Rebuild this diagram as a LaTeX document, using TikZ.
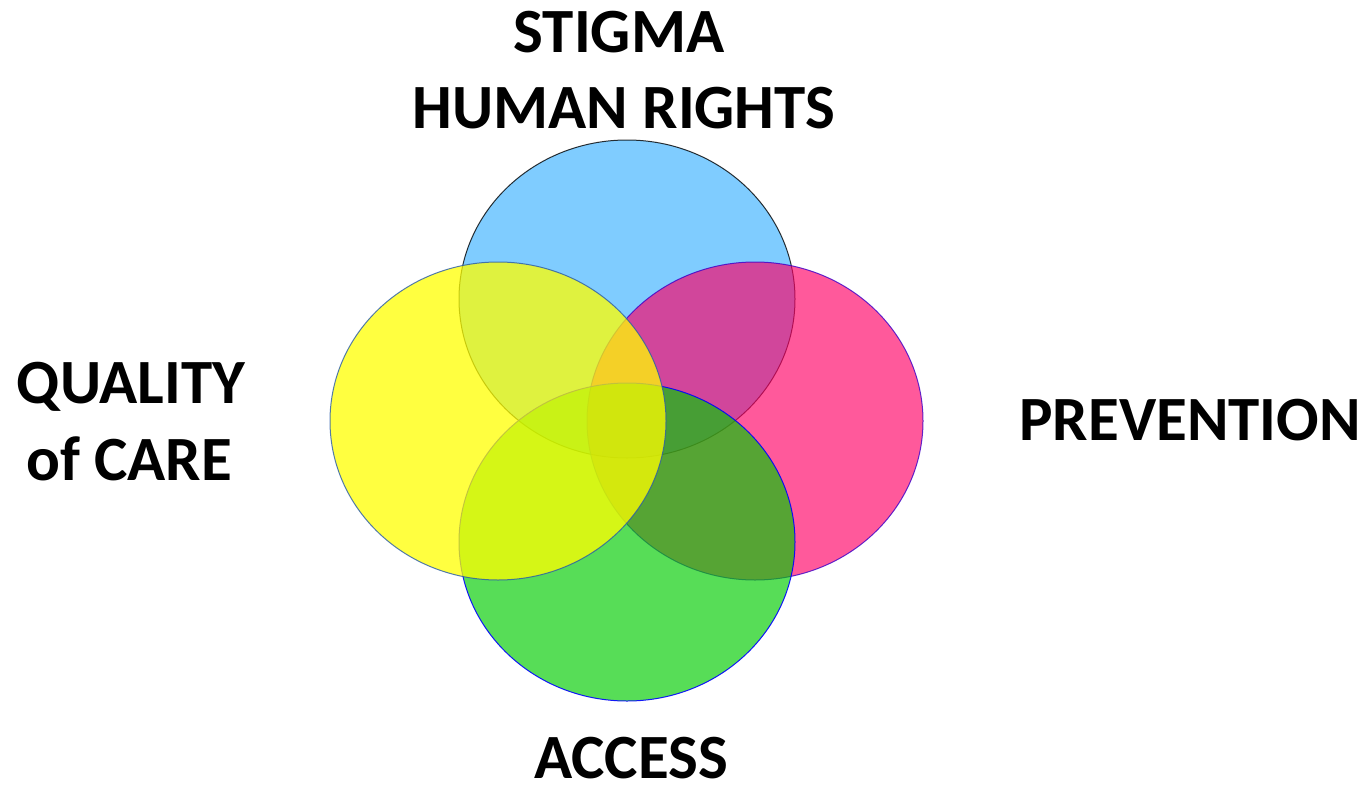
\documentclass[tikz,border=0pt]{standalone}
\usepackage{fontspec}
\setmainfont{Carlito}
\usetikzlibrary{shapes.geometric}
\begin{document}
\begin{tikzpicture}[x=1pt,y=-1pt,
  disc/.style={ellipse, inner sep=0pt, minimum width=336pt, minimum height=318pt, line width=1pt},
  label/.style={font=\fontsize{63}{74}\selectfont\bfseries, inner sep=0pt, anchor=base}]
  \useasboundingbox (0,0) rectangle (1368,798);
  % four overlapping discs, stacked bottom to top
  \node[disc, fill={rgb,255:red,0;green,153;blue,255}, fill opacity=0.5, draw=black, draw opacity=0.8] (stigmadisc) at (627,299) {};
  \node[disc, fill={rgb,255:red,255;green,0;blue,102}, fill opacity=0.65, draw={rgb,255:red,60;green,0;blue,200}, draw opacity=0.8] (prevdisc) at (755,421) {};
  \node[disc, fill={rgb,255:red,0;green,204;blue,0}, fill opacity=0.66, draw={rgb,255:red,0;green,0;blue,255}, draw opacity=0.9] (accessdisc) at (627,542) {};
  \node[disc, fill={rgb,255:red,255;green,255;blue,0}, fill opacity=0.75, draw={rgb,255:red,40;green,90;blue,170}, draw opacity=0.8] (qualitydisc) at (498,421) {};
  % labels
  \node[label] (stigma) at (619,52) {STIGMA};
  \node[label] (rights) at (624,128) {HUMAN RIGHTS};
  \node[label] (quality) at (131,403) {QUALITY};
  \node[label] (ofcare) at (129,480) {of CARE};
  \node[label] (prevention) at (1190,440) {PREVENTION};
  \node[label] (access) at (631,778) {ACCESS};
\end{tikzpicture}
\end{document}
